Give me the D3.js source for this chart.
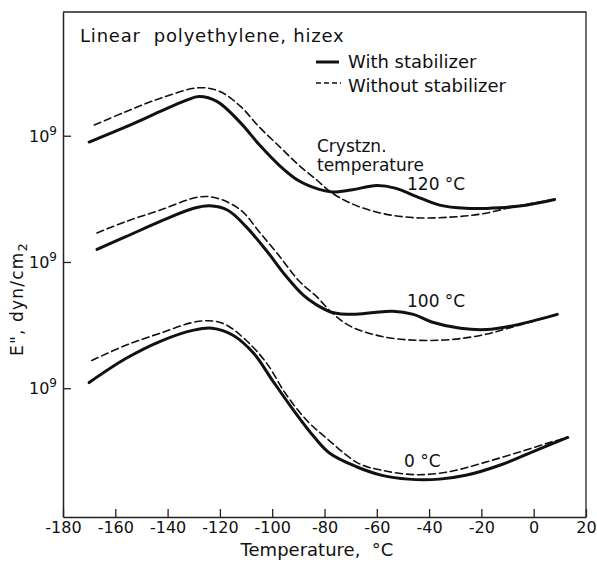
<!DOCTYPE html>
<html>
<head>
<meta charset="utf-8">
<script src="https://cdn.jsdelivr.net/npm/d3@7"></script>
<style>
  body { margin: 0; background: #fff; }
  text { font-family: "DejaVu Sans", sans-serif; fill: #111; }
</style>
</head>
<body>
<div id="chart-area"></div>
<script>
// x tick labels (temperature, °C)
const xTicks = [-180, -160, -140, -120, -100, -80, -60, -40, -20, 0, 20];

// each group is drawn shifted up by some decades, like the original figure
const groups = ["120 °C", "100 °C", "0 °C"];
const groupShift = [2, 1, 0];

// log10 E'', [temperature, value]
const solid120 = [[-170, 8.95], [-156, 9.07], [-143, 9.19], [-133, 9.28], [-128, 9.31], [-121, 9.27],
    [-112, 9.10], [-105, 8.93], [-97, 8.76], [-90, 8.645], [-82, 8.575], [-77, 8.555], [-70, 8.57],
    [-60, 8.605], [-53, 8.585], [-45, 8.52], [-36, 8.45], [-26, 8.425], [-13, 8.43], [-3, 8.45], [8, 8.495]];
const dashed120 = [[-168, 9.085], [-156, 9.19], [-143, 9.295], [-128, 9.38], [-120, 9.35], [-112, 9.23],
    [-105, 9.07], [-97, 8.91], [-90, 8.77], [-83, 8.65], [-78, 8.56], [-70, 8.465], [-58, 8.385],
    [-45, 8.35], [-32, 8.355], [-20, 8.38], [-7, 8.44], [8, 8.495]];

const solid100 = [[-167, 9.10], [-156, 9.20], [-143, 9.32], [-130, 9.425], [-124, 9.445], [-117, 9.41],
    [-110, 9.28], [-102, 9.085], [-95, 8.895], [-88, 8.735], [-83, 8.66], [-77, 8.60], [-69, 8.585],
    [-61, 8.60], [-54, 8.61], [-46, 8.585], [-39, 8.525], [-28, 8.475], [-18, 8.465], [-7, 8.50], [9, 8.585]];
const dashed100 = [[-167, 9.23], [-156, 9.32], [-143, 9.41], [-128, 9.515], [-121, 9.505], [-112, 9.41],
    [-105, 9.24], [-97, 9.04], [-90, 8.855], [-83, 8.725], [-77, 8.595], [-70, 8.49], [-58, 8.41],
    [-45, 8.38], [-32, 8.385], [-20, 8.42], [-8, 8.485], [9, 8.585]];

const solid0 = [[-170, 9.045], [-156, 9.235], [-143, 9.37], [-130, 9.46], [-123, 9.475], [-115, 9.42],
    [-107, 9.275], [-100, 9.065], [-92, 8.83], [-84, 8.615], [-78, 8.485], [-68, 8.38], [-58, 8.31],
    [-48, 8.28], [-36, 8.28], [-26, 8.31], [-13, 8.39], [0, 8.50], [13, 8.61]];
const dashed0 = [[-169, 9.22], [-156, 9.34], [-143, 9.435], [-128, 9.53], [-119, 9.515], [-110, 9.38],
    [-102, 9.195], [-95, 8.96], [-87, 8.75], [-79, 8.60], [-67, 8.405], [-58, 8.35], [-45, 8.315],
    [-32, 8.34], [-20, 8.405], [-7, 8.485], [7, 8.575], [13, 8.61]];

const curves = [
    { data: solid120, shift: 2, dashed: false }, { data: dashed120, shift: 2, dashed: true },
    { data: solid100, shift: 1, dashed: false }, { data: dashed100, shift: 1, dashed: true },
    { data: solid0, shift: 0, dashed: false }, { data: dashed0, shift: 0, dashed: true }
];

const svg = d3.select("#chart-area")
    .append("svg")
        .attr("width", 597)
        .attr("height", 568);

const x = d3.scaleLinear().domain([-180, 20]).range([63, 586]);
const y = d3.scaleLinear().domain([7.98, 11.98]).range([517, 12]);

// frame
svg.append("path")
    .attr("d", `M${x(-180)},${y(11.98)}H${x(20)}V${y(7.98)}`)
    .attr("fill", "none")
    .attr("stroke", "#222")
    .attr("stroke-width", 1.3);

// x axis, ticks pointing in
const xAxis = svg.append("g")
    .attr("transform", `translate(0,${y(7.98)})`)
    .call(d3.axisBottom(x).tickValues(xTicks).tickSizeInner(-8).tickSizeOuter(0).tickPadding(5)
        .tickFormat(d => d < 0 ? "-" + Math.abs(d) : d));
xAxis.select(".domain").attr("stroke", "#222").attr("stroke-width", 1.5);
xAxis.selectAll(".tick line").attr("stroke", "#222").attr("stroke-width", 1.3);
xAxis.selectAll(".tick text")
    .attr("font-family", "DejaVu Sans, sans-serif")
    .attr("font-size", 16)
    .attr("fill", "#111");

// y axis, only the three 10^9 marks
const yAxis = svg.append("g")
    .attr("transform", `translate(${x(-180)},0)`)
    .call(d3.axisLeft(y).tickValues(groupShift.map(s => 9 + s)).tickSizeInner(-8).tickSizeOuter(0).tickFormat(""));
yAxis.select(".domain").attr("stroke", "#222").attr("stroke-width", 1.5);
yAxis.selectAll(".tick line").attr("stroke", "#222").attr("stroke-width", 1.3);

groupShift.forEach((s) => {
    const t = svg.append("text")
        .attr("x", 57)
        .attr("y", y(9 + s) + 6)
        .attr("text-anchor", "end")
        .attr("font-size", 16);
    t.append("tspan").text("10");
    t.append("tspan").attr("font-size", 12).attr("dy", -7).text("9");
});

// curves
const line = d3.line()
    .x(d => x(d[0]))
    .curve(d3.curveCatmullRom.alpha(0.5));

curves.forEach((c) => {
    svg.append("path")
        .attr("d", line.y(d => y(d[1] + c.shift))(c.data))
        .attr("fill", "none")
        .attr("stroke", "#111")
        .attr("stroke-width", c.dashed ? 1.6 : 3)
        .attr("stroke-dasharray", c.dashed ? "7,4" : null)
        .attr("stroke-linecap", "round");
});

// title and legend
svg.append("text")
    .attr("x", 80).attr("y", 42)
    .attr("font-size", 18)
    .attr("letter-spacing", 0.8)
    .attr("xml:space", "preserve")
    .style("white-space", "pre")
    .text("Linear  polyethylene, hizex");

svg.append("line")
    .attr("x1", 316).attr("x2", 339).attr("y1", 62).attr("y2", 62)
    .attr("stroke", "#111").attr("stroke-width", 3);
svg.append("text").attr("x", 348).attr("y", 68).attr("font-size", 18).text("With stabilizer");

svg.append("line")
    .attr("x1", 316).attr("x2", 341).attr("y1", 83).attr("y2", 83)
    .attr("stroke", "#111").attr("stroke-width", 1.6).attr("stroke-dasharray", "5,3");
svg.append("text").attr("x", 348).attr("y", 92).attr("font-size", 18).text("Without stabilizer");

// annotations
svg.append("text").attr("x", 317).attr("y", 152).attr("font-size", 17).text("Crystzn.");
svg.append("text").attr("x", 317).attr("y", 171).attr("font-size", 17).text("temperature");

const labelPos = [[407, 190], [407, 307], [404, 467]];
groups.forEach((g, i) => {
    svg.append("text")
        .attr("x", labelPos[i][0]).attr("y", labelPos[i][1])
        .attr("font-size", 17)
        .text(g);
});

// axis titles
svg.append("text")
    .attr("x", 317).attr("y", 556)
    .attr("text-anchor", "middle")
    .attr("font-size", 18)
    .attr("xml:space", "preserve")
    .style("white-space", "pre")
    .text("Temperature,  °C");

const yl = svg.append("text")
    .attr("transform", "translate(23,299) rotate(-90)")
    .attr("text-anchor", "middle")
    .attr("font-size", 17)
    .attr("letter-spacing", 1.2);
yl.append("tspan").text("E\", dyn/cm");
yl.append("tspan").attr("font-size", 13).attr("dy", 4).text("2");
</script>
</body>
</html>
